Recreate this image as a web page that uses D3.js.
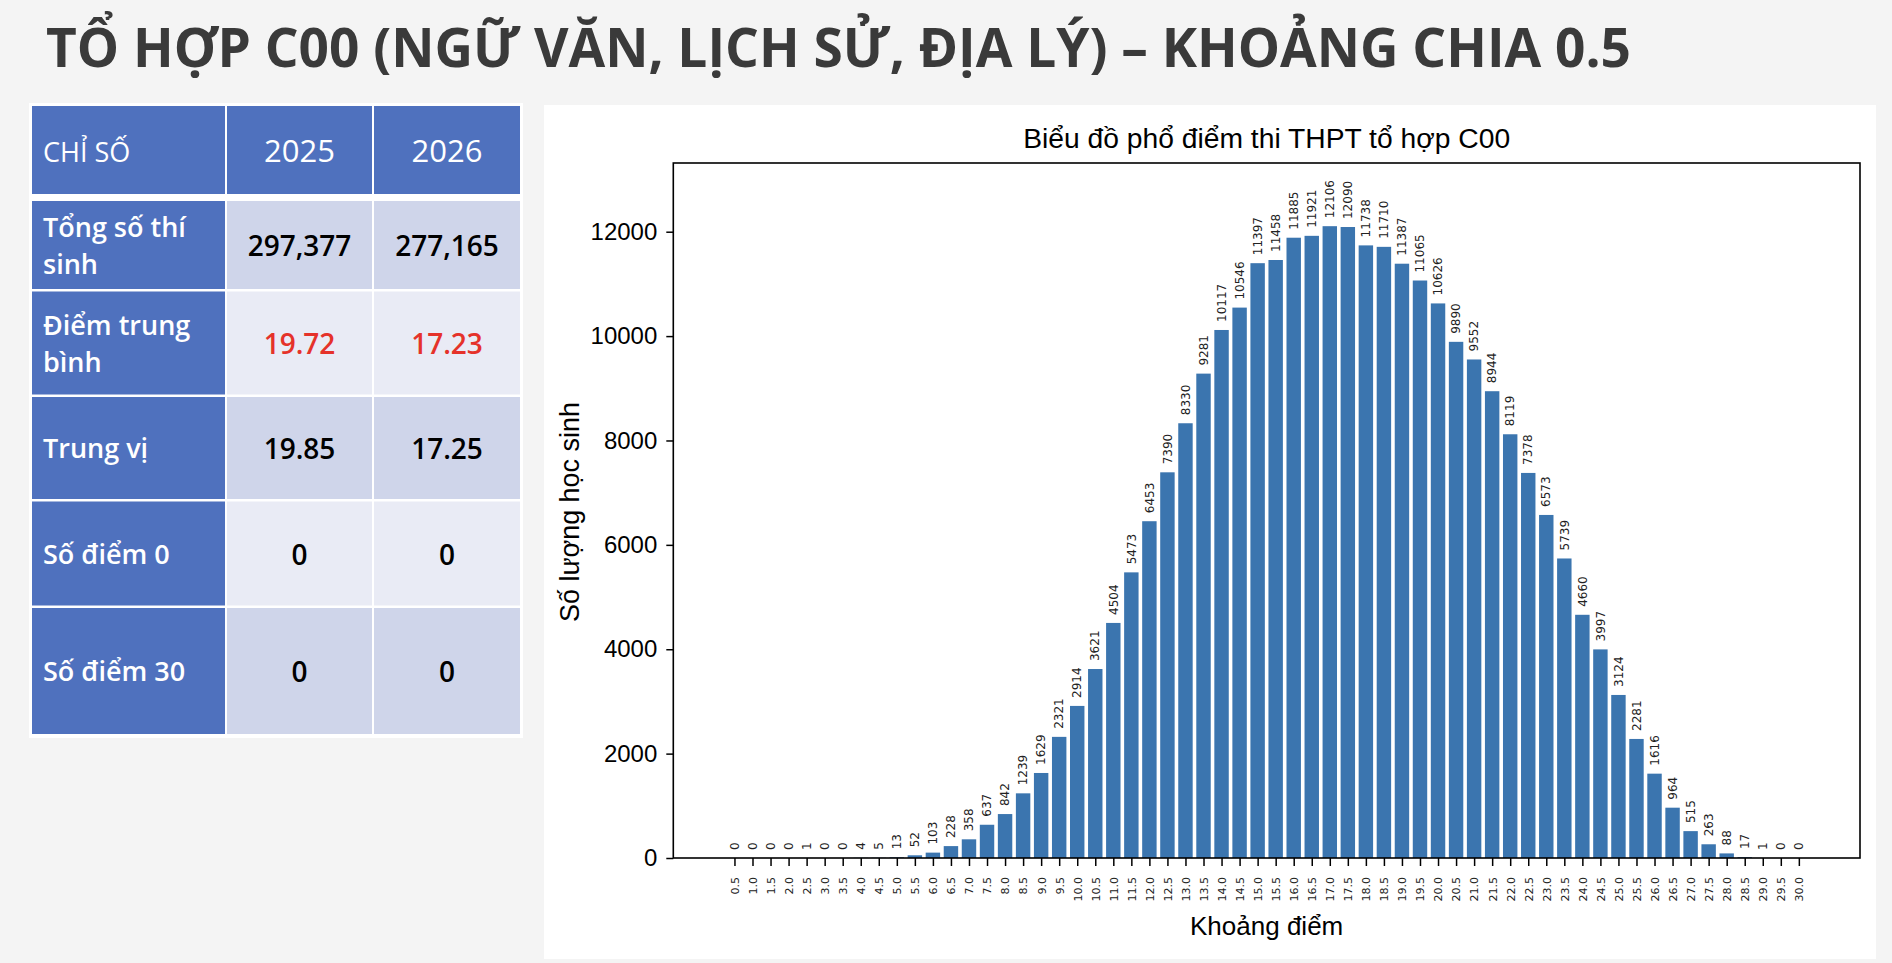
<!DOCTYPE html>
<html>
<head>
<meta charset="utf-8">
<script src="https://cdn.jsdelivr.net/npm/d3@7"></script>
<style>
  html, body { margin: 0; padding: 0; background: #f4f4f4; }
  svg { display: block; }
</style>
</head>
<body>
<svg id="chart" width="1892" height="963"></svg>
<script>
// ---- data ----
const pageTitle = "TỔ HỢP C00 (NGỮ VĂN, LỊCH SỬ, ĐỊA LÝ) – KHOẢNG CHIA 0.5";

const tableHeader = ["CHỈ SỐ", "2025", "2026"];
const statLabels = [["Tổng số thí", "sinh"], ["Điểm trung", "bình"], ["Trung vị"], ["Số điểm 0"], ["Số điểm 30"]];
const stats2025 = [297377, 19.72, 19.85, 0, 0];
const stats2026 = [277165, 17.23, 17.25, 0, 0];
const statFormats = [",", ".2f", ".2f", "d", "d"];

const chartTitle = "Biểu đồ phổ điểm thi THPT tổ hợp C00";
const xLabel = "Khoảng điểm";
const yLabel = "Số lượng học sinh";

const scoreBins = ["0.5", "1.0", "1.5", "2.0", "2.5", "3.0", "3.5", "4.0", "4.5", "5.0",
  "5.5", "6.0", "6.5", "7.0", "7.5", "8.0", "8.5", "9.0", "9.5", "10.0",
  "10.5", "11.0", "11.5", "12.0", "12.5", "13.0", "13.5", "14.0", "14.5", "15.0",
  "15.5", "16.0", "16.5", "17.0", "17.5", "18.0", "18.5", "19.0", "19.5", "20.0",
  "20.5", "21.0", "21.5", "22.0", "22.5", "23.0", "23.5", "24.0", "24.5", "25.0",
  "25.5", "26.0", "26.5", "27.0", "27.5", "28.0", "28.5", "29.0", "29.5", "30.0"];
const studentCounts = [0, 0, 0, 0, 1, 0, 0, 4, 5, 13,
  52, 103, 228, 358, 637, 842, 1239, 1629, 2321, 2914,
  3621, 4504, 5473, 6453, 7390, 8330, 9281, 10117, 10546, 11397,
  11458, 11885, 11921, 12106, 12090, 11738, 11710, 11387, 11065, 10626,
  9890, 9552, 8944, 8119, 7378, 6573, 5739, 4660, 3997, 3124,
  2281, 1616, 964, 515, 263, 88, 17, 1, 0, 0];
const yTicks = [0, 2000, 4000, 6000, 8000, 10000, 12000];

// ---- page ----
const svg = d3.select("#chart");
svg.append("rect").attr("width", 1892).attr("height", 963).attr("fill", "#f4f4f4");

svg.append("text")
  .attr("x", 46).attr("y", 67)
  .attr("font-family", "'Open Sans', 'Noto Sans', sans-serif")
  .attr("font-weight", 700)
  .attr("font-size", 53)
  .attr("fill", "#3a3a3a")
  .attr("textLength", 1585)
  .attr("lengthAdjust", "spacingAndGlyphs")
  .text(pageTitle);

// ---- table ----
const blue = "#4f71be", cellDark = "#cfd5ea", cellLight = "#e9ebf5", red = "#e5322a";
const tableFont = "'Open Sans', 'Noto Sans', sans-serif";
const colX = [32, 227, 374], colW = [193, 145, 146];
const headY = 106, headH = 88;
const rowH = [88, 103, 102, 104, 126];
const rowY = [];
let yy = 201;
rowH.forEach(h => { rowY.push(yy); yy += h + 2.5; });

const table = svg.append("g");
table.append("rect").attr("x", 29).attr("y", 103).attr("width", 494).attr("height", 635).attr("fill", "#fff");

// header
tableHeader.forEach((t, j) => {
  table.append("rect").attr("x", colX[j]).attr("y", headY).attr("width", colW[j]).attr("height", headH).attr("fill", blue);
  table.append("text")
    .attr("x", j === 0 ? colX[0] + 11 : colX[j] + colW[j] / 2)
    .attr("y", headY + headH / 2 + 12)
    .attr("text-anchor", j === 0 ? "start" : "middle")
    .attr("font-family", tableFont)
    .attr("font-weight", 500)
    .attr("font-size", j === 0 ? 27 : 31)
    .attr("fill", "#fff")
    .text(t);
});

const fmt = statFormats.map(f => d3.format(f));
statLabels.forEach((lines, i) => {
  const cy = rowY[i] + rowH[i] / 2;
  table.append("rect").attr("x", colX[0]).attr("y", rowY[i]).attr("width", colW[0]).attr("height", rowH[i]).attr("fill", blue);
  [stats2025, stats2026].forEach((vals, k) => {
    const j = k + 1;
    table.append("rect").attr("x", colX[j]).attr("y", rowY[i]).attr("width", colW[j]).attr("height", rowH[i])
      .attr("fill", i % 2 === 0 ? cellDark : cellLight);
    table.append("text")
      .attr("x", colX[j] + colW[j] / 2)
      .attr("y", cy + 11)
      .attr("text-anchor", "middle")
      .attr("font-family", tableFont)
      .attr("font-weight", 600)
      .attr("font-size", 28)
      .attr("fill", i === 1 ? red : "#000")
      .text(fmt[i](vals[i]));
  });
  const lab = table.append("text")
    .attr("font-family", tableFont)
    .attr("font-weight", 600)
    .attr("font-size", 27)
    .attr("fill", "#fff");
  lines.forEach((ln, m) => {
    lab.append("tspan")
      .attr("x", colX[0] + 11)
      .attr("y", lines.length === 1 ? cy + 10 : cy - 8 + m * 37)
      .text(ln);
  });
});

// ---- chart ----
svg.append("rect").attr("x", 544).attr("y", 105).attr("width", 1332).attr("height", 854).attr("fill", "#fff");

const plot = { left: 673.3, right: 1860, top: 163, bottom: 858 };
const n = studentCounts.length;
const barW = 0.8;
const lo = -barW / 2, hi = n - 1 + barW / 2, pad = 0.05 * (hi - lo);

const x = d3.scaleLinear().domain([lo - pad, hi + pad]).range([plot.left, plot.right]);
const y = d3.scaleLinear().domain([0, d3.max(studentCounts) * 1.1]).range([plot.bottom, plot.top]);

const chartFont = "'Liberation Sans', Arial, sans-serif";
const smallFont = "'DejaVu Sans', sans-serif";

const g = svg.append("g");

g.selectAll("rect.bar")
  .data(studentCounts)
  .join("rect")
  .attr("class", "bar")
  .attr("x", (d, i) => x(i - barW / 2))
  .attr("y", d => y(d))
  .attr("width", (d, i) => x(i + barW / 2) - x(i - barW / 2))
  .attr("height", d => plot.bottom - y(d))
  .attr("fill", "#3b75af");

// value labels
g.selectAll("text.val")
  .data(studentCounts)
  .join("text")
  .attr("class", "val")
  .attr("transform", (d, i) => `translate(${x(i)},${y(d) - 8}) rotate(-90)`)
  .attr("dy", "0.35em")
  .attr("font-family", smallFont)
  .attr("font-size", 12)
  .attr("fill", "#222")
  .text(d => d);

// y axis
const yAxis = g.append("g")
  .attr("transform", `translate(${plot.left},0)`)
  .call(d3.axisLeft(y).tickValues(yTicks).tickSize(7).tickPadding(9).tickFormat(d3.format("d")));
yAxis.select(".domain").remove();
yAxis.selectAll("line").attr("stroke", "#000").attr("stroke-width", 1.5);
yAxis.selectAll("text").attr("font-family", chartFont).attr("font-size", 24).attr("fill", "#000");

// x axis
const xAxis = g.append("g")
  .attr("transform", `translate(0,${plot.bottom})`)
  .call(d3.axisBottom(x).tickValues(d3.range(n)).tickSize(8).tickFormat(i => scoreBins[i]));
xAxis.select(".domain").remove();
xAxis.selectAll("line").attr("stroke", "#000").attr("stroke-width", 1.5);
xAxis.selectAll("text")
  .attr("transform", "rotate(-90)")
  .attr("x", -19).attr("y", 0).attr("dy", "0.35em")
  .attr("text-anchor", "end")
  .attr("font-family", smallFont)
  .attr("font-size", 11)
  .attr("fill", "#222");

// spines
g.append("rect")
  .attr("x", plot.left).attr("y", plot.top)
  .attr("width", plot.right - plot.left).attr("height", plot.bottom - plot.top)
  .attr("fill", "none").attr("stroke", "#000").attr("stroke-width", 1.6);

// titles
g.append("text")
  .attr("x", (plot.left + plot.right) / 2).attr("y", 148)
  .attr("text-anchor", "middle")
  .attr("font-family", chartFont).attr("font-size", 27).attr("fill", "#000")
  .attr("textLength", 487).attr("lengthAdjust", "spacingAndGlyphs")
  .text(chartTitle);

g.append("text")
  .attr("x", (plot.left + plot.right) / 2).attr("y", 935)
  .attr("text-anchor", "middle")
  .attr("font-family", chartFont).attr("font-size", 26).attr("fill", "#000")
  .text(xLabel);

g.append("text")
  .attr("transform", `translate(579,512) rotate(-90)`)
  .attr("text-anchor", "middle")
  .attr("font-family", chartFont).attr("font-size", 27).attr("fill", "#000")
  .attr("textLength", 220).attr("lengthAdjust", "spacingAndGlyphs")
  .text(yLabel);
</script>
</body>
</html>
